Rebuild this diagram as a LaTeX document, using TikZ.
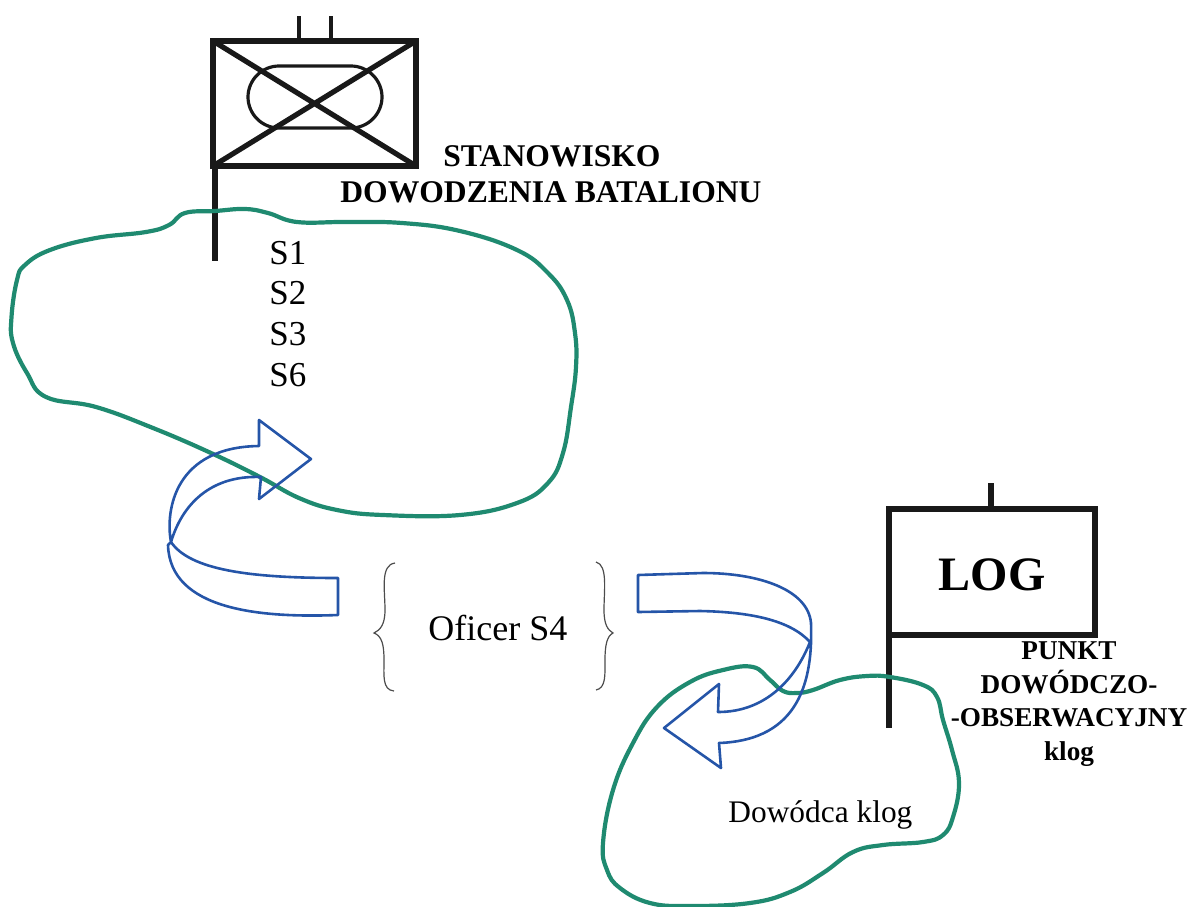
\documentclass[tikz,border=0pt]{standalone}
\usepackage{fontspec}
\setmainfont{Liberation Serif}
\definecolor{loopgreen}{HTML}{1F8A70}
\definecolor{arrowblue}{HTML}{2555A8}
\tikzset{
  x=0.5pt,y=-0.5pt,
  sym/.style={draw=black!90,line width=2.6pt},
  thinsym/.style={draw=black!90,line width=1.6pt},
  loopline/.style={draw=loopgreen,line width=2.1pt},
  bluearrow/.style={draw=arrowblue,line width=1.3pt,line join=round},
  brace/.style={draw=black!70,line width=0.6pt},
  big/.style={font=\fontsize{17.5}{20}\selectfont,inner sep=0pt},
  bold/.style={font=\fontsize{15.8}{18}\bfseries\selectfont,inner sep=0pt,align=center},
  boldsmall/.style={font=\fontsize{13.6}{16.7}\bfseries\selectfont,inner sep=0pt,align=center}
}
\begin{document}
\begin{tikzpicture}
\useasboundingbox (0,0) rectangle (1194,906);
% battalion symbol
\draw[sym] (213,41) rectangle (416,166);
\draw[sym] (213,41) -- (416,166) (416,41) -- (213,166);
\draw[sym] (215,166) -- (215,261);
\draw[thinsym] (299,16) -- (299,41) (331,16) -- (331,41);
\draw[thinsym] (279,66) -- (351,66) .. controls (368,66) and (382,80) .. (382,97) .. controls (382,114) and (368,128) .. (351,128) -- (279,128) .. controls (262,128) and (248,114) .. (248,97) .. controls (248,80) and (262,66) .. (279,66) -- cycle;
% log symbol
\draw[sym] (889,509) rectangle (1095,635);
\draw[sym] (889,635) -- (889,728);
\draw[sym] (991,483) -- (991,509);
\node[font=\fontsize{24}{28}\bfseries\selectfont,inner sep=0pt] (log) at (992,575) {LOG};
% green loops
\draw[loopline] plot[smooth cycle,tension=0.7] coordinates {
 (185,213) (215,211) (245,209) (268,213) (297,222) (345,222) (402,223) (460,231) (517,250)
 (548,273) (567,300) (575,333) (576,367) (571,407) (563,453) (548,483) (517,503) (460,515)
 (383,515) (337,510) (299,498) (260,477) (211,453) (153,428) (96,407) (46,397) (27,373)
 (13,343) (11.5,317) (17,280) (25,265) (50,250) (96,238) (146,232) (169,225)};
\draw[loopline] plot[smooth cycle,tension=0.7] coordinates {
 (753,667) (770,680) (783,691) (797,693) (813,690) (840,680) (867,676) (890,677) (923,685)
 (937,697) (943,720) (952,750) (959,783) (953,817) (943,835) (923,842) (883,845) (853,852)
 (823,873) (790,892) (750,903) (690,906) (650,903) (620,888) (607,870) (603,843) (613,790)
 (633,743) (657,707) (690,682) (723,670)};
% left blue arrow
\draw[bluearrow] (171,542) .. controls (165,510) and (175,447) .. (259,446) -- (259,420) -- (311,459) -- (259,499) -- (261,477)
 .. controls (210,475) and (182,505) .. (171,542)
 .. controls (190,570) and (250,578) .. (338,578) -- (338,615)
 .. controls (260,618) and (170,610) .. (168,545) -- cycle;
% right blue arrow
\draw[bluearrow] (810,642) .. controls (790,620) and (750,612) .. (700,611) -- (638,612) -- (638,575) -- (703,573)
 .. controls (760,573) and (808,590) .. (811,623) .. controls (813,680) and (800,740) .. (719,743) -- (721,768) -- (664,728) -- (719,684) -- (718,712)
 .. controls (765,712) and (795,680) .. (810,642) -- cycle;
% braces
\draw[brace] (395,563) .. controls (380,565) and (385,590) .. (385,610) .. controls (385,625) and (380,630) .. (374,633)
 .. controls (382,636) and (384,645) .. (384,660) .. controls (384,675) and (382,690) .. (394,691);
\draw[brace] (596,562) .. controls (608,565) and (604,590) .. (604,610) .. controls (604,625) and (608,630) .. (613,633)
 .. controls (607,636) and (605,645) .. (605,660) .. controls (605,675) and (606,688) .. (596,690);
% texts
\node[bold,anchor=west] (t1) at (443,156) {STANOWISKO};
\node[bold,anchor=west] (t2) at (340,192) {DOWODZENIA BATALIONU};
\node[big,anchor=west] (s1) at (269,253) {S1};
\node[big,anchor=west] (s2) at (269,293) {S2};
\node[big,anchor=west] (s3) at (269,334) {S3};
\node[big,anchor=west] (s6) at (269,375) {S6};
\node[font=\fontsize{18}{20}\selectfont,inner sep=0pt,anchor=west] (of) at (428,628) {Oficer S4};
\node[boldsmall] (p) at (1069,704) {PUNKT\\DOWÓDCZO-\\-OBSERWACYJNY\\klog};
\node[font=\fontsize{15.7}{18}\selectfont,inner sep=0pt,anchor=west] (d) at (728,815) {Dowódca klog};
\end{tikzpicture}
\end{document}
